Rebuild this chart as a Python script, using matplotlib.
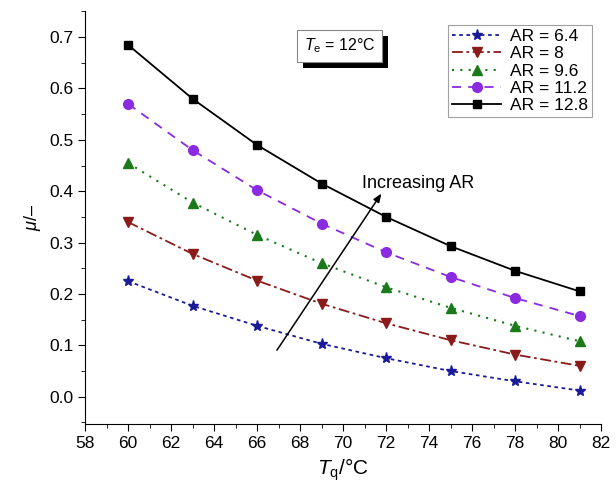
import numpy as np
import matplotlib
matplotlib.use("Agg")
import matplotlib.pyplot as plt
from matplotlib.ticker import MultipleLocator
from matplotlib.transforms import IdentityTransform

plt.rcParams['font.family'] = ['Liberation Sans', 'DejaVu Sans']
plt.rcParams['mathtext.fontset'] = 'custom'
plt.rcParams['mathtext.rm'] = 'Liberation Sans'
plt.rcParams['mathtext.it'] = 'Liberation Sans:italic'

# data
tq = [60, 63, 66, 69, 72, 75, 78, 81]
mu_64 = [0.225, 0.177, 0.138, 0.103, 0.075, 0.050, 0.030, 0.012]
mu_80 = [0.340, 0.278, 0.226, 0.181, 0.143, 0.110, 0.082, 0.060]
mu_96 = [0.455, 0.378, 0.315, 0.260, 0.213, 0.173, 0.138, 0.108]
mu_112 = [0.570, 0.480, 0.402, 0.337, 0.281, 0.233, 0.192, 0.157]
mu_128 = [0.685, 0.580, 0.490, 0.415, 0.350, 0.293, 0.245, 0.205]
labels = ["AR = 6.4", "AR = 8", "AR = 9.6", "AR = 11.2", "AR = 12.8"]
yticks = [0.0, 0.1, 0.2, 0.3, 0.4, 0.5, 0.6, 0.7]

fig = plt.figure(figsize=(6.16, 4.97), dpi=100)
ax = fig.add_axes([0.138, 0.147, 0.838, 0.83])

ax.plot(tq, mu_64, color='#1a1a9a', ls=(0, (2, 2)), marker='*', ms=8, lw=1.3, label=labels[0])
ax.plot(tq, mu_80, color='#8b1a1a', ls=(0, (6, 2, 1.5, 2)), marker='v', ms=7, lw=1.3, label=labels[1])
ax.plot(tq, mu_96, color='#1a7a1a', ls=(0, (1, 3)), marker='^', ms=7, lw=1.5, label=labels[2])
ax.plot(tq, mu_112, color='#8a2be2', ls=(0, (5, 4)), marker='o', ms=7, lw=1.3, label=labels[3])
ax.plot(tq, mu_128, color='black', ls='-', marker='s', ms=6, lw=1.3, label=labels[4])

ax.set_xlim(58, 82)
ax.set_ylim(-0.053, 0.75)
ax.xaxis.set_major_locator(MultipleLocator(2))
ax.xaxis.set_minor_locator(MultipleLocator(1))
ax.set_yticks(yticks)
ax.set_yticklabels([f"{v:.1f}" for v in yticks])
ax.yaxis.set_minor_locator(MultipleLocator(0.05))
ax.spines['top'].set_visible(False)
ax.spines['right'].set_visible(False)
ax.tick_params(which='major', direction='out', length=5, labelsize=12.5)
ax.tick_params(which='minor', direction='out', length=3)

ax.set_xlabel(r'$T_\mathrm{q}$/°C', fontsize=15)
ax.set_ylabel(r'$\mu$/–', fontsize=13)

ax.annotate('', xy=(71.85, 0.40), xytext=(66.85, 0.086),
            arrowprops=dict(arrowstyle='-|>,head_length=0.5,head_width=0.2',
                            color='black', lw=1.1))
ax.text(70.9, 0.416, 'Increasing AR', fontsize=13, va='center')

# T_e box, shadow added after a first draw
te = ax.text(0.424, 0.916, r'$T_\mathrm{e}$ = 12°C', transform=ax.transAxes, fontsize=11.5,
             va='center', ha='left', zorder=5,
             bbox=dict(boxstyle='square,pad=0.4', fc='white', ec='#888888', lw=0.8))

leg = ax.legend(loc='upper right', bbox_to_anchor=(0.982, 0.968), fontsize=12.5,
                frameon=True, fancybox=False, edgecolor='#888888',
                handlelength=2.8, borderaxespad=0.0, labelspacing=0.12,
                borderpad=0.25, handletextpad=0.5)
leg.get_frame().set_linewidth(0.8)

fig.canvas.draw()
bb = te.get_bbox_patch().get_window_extent()
fig.patches.append(plt.Rectangle((bb.x0 + 6, bb.y0 - 6), bb.width, bb.height,
                                 transform=IdentityTransform(), fc='black', ec='none',
                                 zorder=0, figure=fig))
te.set_zorder(5)
ax.set_zorder(1)
ax.patch.set_alpha(0)

fig.savefig('out.png', dpi=100)
